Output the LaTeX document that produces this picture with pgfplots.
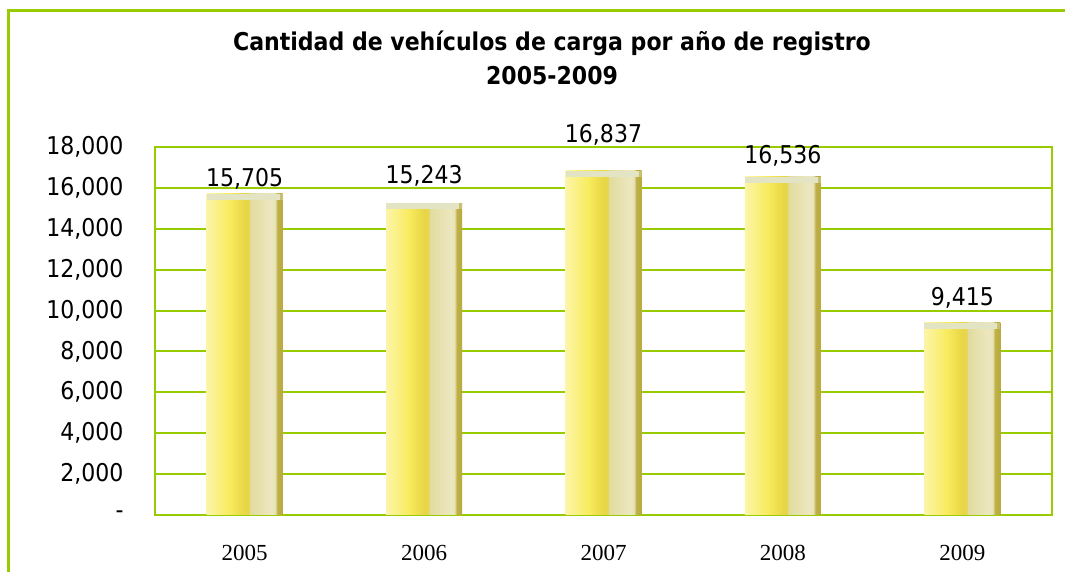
\documentclass[border=0pt]{standalone}
\usepackage{fontspec}
\setmainfont{DejaVu Sans Condensed}
\newfontfamily\serifx{Liberation Serif}
\usepackage{pgfplots}
\pgfplotsset{compat=1.18}
\definecolor{cgreen}{RGB}{153,204,0}
\definecolor{cA}{HTML}{FCF5A8}
\definecolor{cB}{HTML}{F8EB5E}
\definecolor{cC}{HTML}{E8D645}
\definecolor{cD}{HTML}{E6D64E}
\definecolor{cE}{HTML}{E2DB9E}
\definecolor{cF}{HTML}{ECE7C0}
\definecolor{cG}{HTML}{E8E2B5}
\definecolor{cH}{HTML}{BEB048}
\definecolor{cI}{HTML}{B8AA3C}
\definecolor{capc}{HTML}{E3E4C4}
\definecolor{capd}{HTML}{C9BF70}
\pgfdeclarehorizontalshading{barshade}{100bp}{color(0bp)=(cA); color(25bp)=(cA); color(40bp)=(cB); color(50bp)=(cC); color(53bp)=(cD); color(53.5bp)=(cE); color(67.5bp)=(cF); color(70bp)=(cG); color(71.5bp)=(cH); color(75bp)=(cI); color(100bp)=(cI)}
\pgfdeclareplotmark{barcap}{%
  \pgfsetfillcolor{capc}%
  \pgfpathrectangle{\pgfqpoint{-38pt}{-6pt}}{\pgfqpoint{73pt}{6pt}}\pgfusepathqfill
  \pgfsetfillcolor{capd}%
  \pgfpathrectangle{\pgfqpoint{35pt}{-6pt}}{\pgfqpoint{3pt}{6pt}}\pgfusepathqfill}
\pgfplotstableread{
x y
0 15705
1 15243
2 16837
3 16536
4 9415
}\datatab
\pgfplotsset{mybar/.style={ybar, bar width=76pt, draw=none, shading=barshade,
  nodes near coords, every node near coord/.append style={font=\fontsize{24.5}{28}\selectfont, text=black, yshift=#1}}}
\begin{document}
\begin{tikzpicture}[x=1pt,y=1pt]
\useasboundingbox (0,0) rectangle (1065,572);
\draw[cgreen, line width=3pt] (8.5,-5) -- (8.5,561.5) -- (1070,561.5);
\node[font=\bfseries\fontsize{24.5}{28}\selectfont] at (552,529) {Cantidad de vehículos de carga por año de registro};
\node[font=\bfseries\fontsize{24.5}{28}\selectfont] at (552,496) {2005-2009};
\begin{axis}[
  at={(155pt,57pt)}, anchor=south west,
  width=897pt, height=368pt, scale only axis,
  xmin=-0.5, xmax=4.5, ymin=0, ymax=18000,
  xtick={0,1,2,3,4}, xticklabels={2005,2006,2007,2008,2009},
  ytick={0,2000,...,18000},
  yticklabels={-,{2,000},{4,000},{6,000},{8,000},{10,000},{12,000},{14,000},{16,000},{18,000}},
  major tick length=0pt,
  axis line style={cgreen, line width=2pt},
  ymajorgrids, grid style={cgreen, line width=2pt},
  yticklabel style={font=\fontsize{24.5}{28}\selectfont, xshift=-28pt},
  xticklabel style={font=\serifx\fontsize{23}{27}\selectfont, yshift=-27pt},
  /pgf/number format/assume math mode=true,
  /pgf/number format/1000 sep={,},
  scaled y ticks=false,
]
\addplot[mybar=1.5pt] coordinates {(0,15705)};
\addplot[mybar=13.5pt] coordinates {(1,15243)};
\addplot[mybar=21.5pt] coordinates {(2,16837)};
\addplot[mybar=7.5pt] coordinates {(3,16536)};
\addplot[mybar=10.5pt] coordinates {(4,9415)};
\addplot[only marks, mark=barcap] table[x=x,y=y] {\datatab};
\end{axis}
\end{tikzpicture}
\end{document}
